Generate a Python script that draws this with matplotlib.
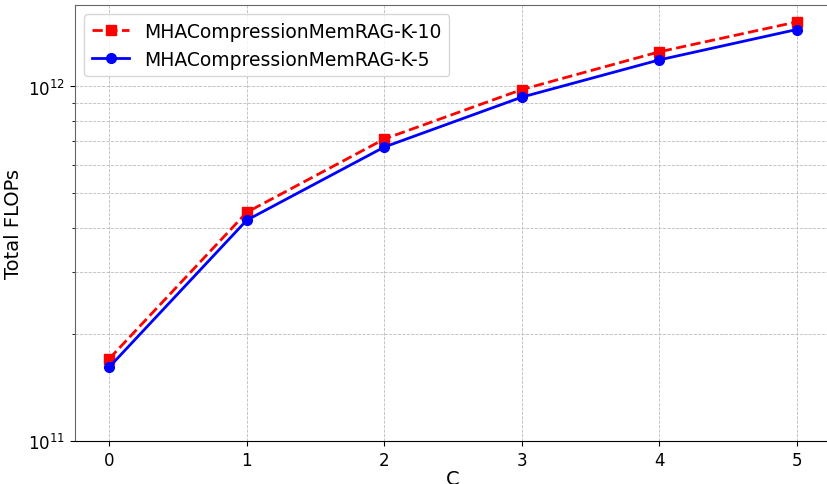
import numpy as np
import matplotlib
matplotlib.use("Agg")
import matplotlib.pyplot as plt

c_values = [0, 1, 2, 3, 4, 5]
flops_k10 = [1.71e11, 4.42e11, 7.11e11, 9.80e11, 1.252e12, 1.52e12]
flops_k5 = [1.62e11, 4.20e11, 6.75e11, 9.33e11, 1.188e12, 1.447e12]
labels = ["MHACompressionMemRAG-K-10", "MHACompressionMemRAG-K-5"]

fig = plt.figure(figsize=(8.28, 4.85), dpi=100)
ax = fig.add_axes([75 / 828, (485 - 442.3) / 485, (831 - 75) / 828, (442.3 - 5.7) / 485])

ax.plot(c_values, flops_k10, color='red', linestyle='--', marker='s', linewidth=2, markersize=7, label=labels[0])
ax.plot(c_values, flops_k5, color='blue', linestyle='-', marker='o', linewidth=2, markersize=7, label=labels[1])

ax.set_yscale('log')
ax.set_ylim(1e11, 1.70e12)
ax.set_xlim(-0.25, 5.25)
ax.set_xticks(c_values)
ax.tick_params(labelsize=12)
ax.set_xlabel("C", fontsize=14, labelpad=0)
ax.set_ylabel("Total FLOPs", fontsize=14)
ax.grid(True, which='both', linestyle='--', linewidth=0.6, color='#bbbbbb')
ax.spines['left'].set_color('#666666')
ax.spines['top'].set_color('#666666')

ax.legend(loc='upper left', fontsize=13.5)

fig.savefig("out.png", dpi=100)
